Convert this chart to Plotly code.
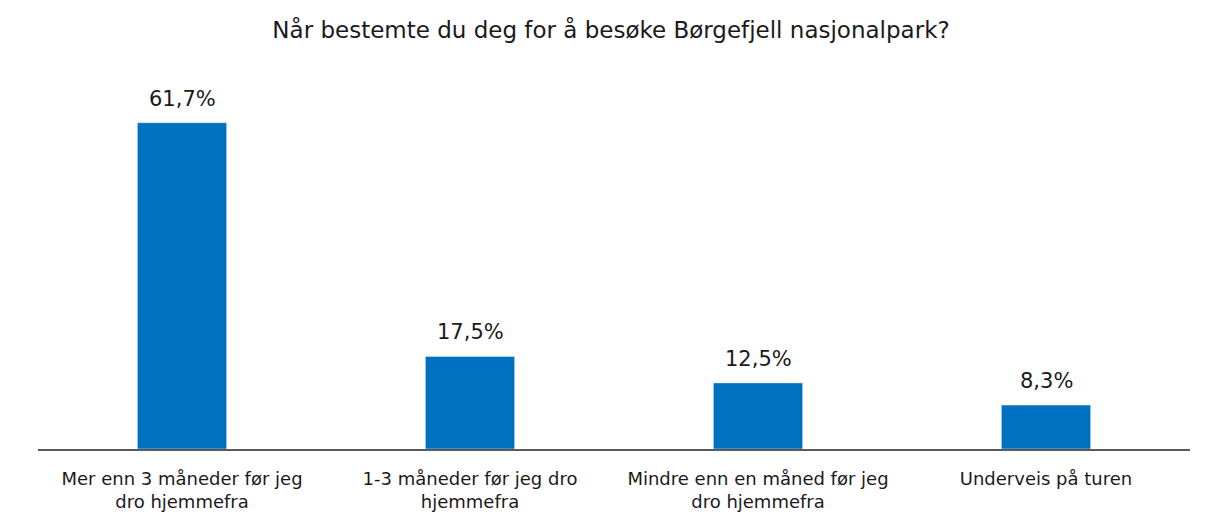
import plotly.graph_objects as go

# Survey answers and shares (%)
categories = [
    "Mer enn 3 måneder før jeg<br>dro hjemmefra",
    "1-3 måneder før jeg dro<br>hjemmefra",
    "Mindre enn en måned før jeg<br>dro hjemmefra",
    "Underveis på turen",
]
values = [61.7, 17.5, 12.5, 8.3]
labels = ["61,7%", "17,5%", "12,5%", "8,3%"]

fig = go.Figure(go.Bar(
    x=categories,
    y=values,
    marker=dict(color="#0070C0"),
    cliponaxis=False,
))

# value labels sit a bit above each bar
for cat, val, lab in zip(categories, values, labels):
    fig.add_annotation(x=cat, y=val, text=lab, showarrow=False,
                       yanchor="bottom", yshift=10,
                       font=dict(size=21, color="#1a1a1a"))

fig.update_layout(
    title=dict(text="Når bestemte du deg for å besøke Børgefjell nasjonalpark?",
               x=0.5, xanchor="center", y=0.958, yanchor="middle",
               font=dict(size=23, color="#1a1a1a")),
    font=dict(family="DejaVu Sans, sans-serif", color="#1a1a1a"),
    width=1206, height=529,
    margin=dict(l=30, r=24, t=92, b=88),
    plot_bgcolor="white",
    paper_bgcolor="white",
    bargap=0.69,
    showlegend=False,
)
fig.update_xaxes(showline=True, linecolor="#595959", linewidth=2,
                 ticks="", ticklabelstandoff=12,
                 tickfont=dict(size=18, color="#1a1a1a"))
fig.update_yaxes(visible=False, range=[0, 66])

fig.write_html("out.html")
